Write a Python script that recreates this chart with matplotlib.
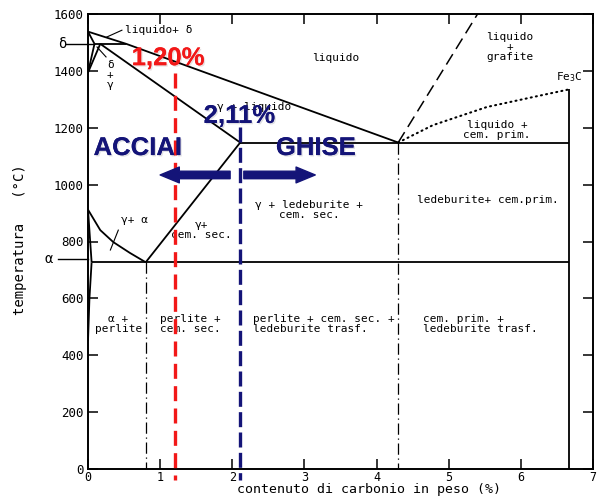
import numpy as np
import matplotlib
matplotlib.use("Agg")
import matplotlib.pyplot as plt
import matplotlib.patheffects as pe

# Fe-C phase boundaries (carbon %, temperature in degC)
liquidus_c = [0.0, 0.53, 4.3]
liquidus_t = [1538, 1495, 1148]
delta_sol_c = [0.0, 0.09]
delta_sol_t = [1538, 1495]
perit_c = [0.09, 0.53]
perit_t = [1495, 1495]
gamma_sol_c = [0.17, 2.11]
gamma_sol_t = [1495, 1148]
dg_left_c = [0.0, 0.09]
dg_left_t = [1394, 1495]
dg_right_c = [0.0, 0.17]
dg_right_t = [1394, 1495]
eutectic_c = [2.11, 6.67]
eutectic_t = [1148, 1148]
acm_c = [2.11, 0.8]
acm_t = [1148, 727]
a3_c = [0.0, 0.17, 0.35, 0.58, 0.8]
a3_t = [912, 840, 798, 760, 727]
alpha_c = [0.0, 0.05]
alpha_t = [912, 727]
solvus_c = [0.05, 0.02, 0.0]
solvus_t = [727, 600, 450]
eutectoid_c = [0.05, 6.67]
eutectoid_t = [727, 727]
fe3c_c = [6.67, 6.67]
fe3c_t = [1335, 0]
cem_liq_c = [4.3, 4.78, 5.53, 6.17, 6.67]
cem_liq_t = [1148, 1209, 1273, 1308, 1335]
graph_c = [4.3, 5.4]
graph_t = [1148, 1600]
eutectoid_comp = 0.8
eutectic_comp = 4.3

# steel / cast iron limits
steel_c = 1.20
steel_top = 1392
ghise_c = 2.11
ghise_top = 1202

x_ticks = [0, 1, 2, 3, 4, 5, 6, 7]
y_ticks = [0, 200, 400, 600, 800, 1000, 1200, 1400, 1600]

navy = "#141478"
red = "#f21818"
mono = "DejaVu Sans Mono"

fig = plt.figure(figsize=(6.04, 5.01), dpi=100)
ax = fig.add_axes([88 / 604, 32 / 501, 505 / 604, 455 / 501])
ax.set_xlim(0, 7)
ax.set_ylim(0, 1600)

lw = 1.3
for c, t in [(liquidus_c, liquidus_t), (delta_sol_c, delta_sol_t),
             (perit_c, perit_t), (gamma_sol_c, gamma_sol_t),
             (dg_left_c, dg_left_t), (dg_right_c, dg_right_t),
             (eutectic_c, eutectic_t), (acm_c, acm_t),
             (a3_c, a3_t), (alpha_c, alpha_t), (solvus_c, solvus_t),
             (eutectoid_c, eutectoid_t), (fe3c_c, fe3c_t)]:
    ax.plot(c, t, color="black", lw=lw, solid_capstyle="butt")

ax.plot(cem_liq_c, cem_liq_t, color="black", lw=1.5, ls=(0, (0.5, 2.0)),
        dash_capstyle="round")
ax.plot(graph_c, graph_t, color="black", lw=1.1, ls=(0, (8, 4)))
ax.plot([eutectoid_comp, eutectoid_comp], [eutectoid_t[0], 0], color="black",
        lw=0.9, ls=(0, (9, 3, 1, 3)))
ax.plot([eutectic_comp, eutectic_comp], [eutectic_t[0], 0], color="black",
        lw=0.9, ls=(0, (9, 3, 1, 3)))

# axes frame and ticks
for s in ax.spines.values():
    s.set_linewidth(1.4)
ax.set_xticks(x_ticks)
ax.set_yticks(y_ticks)
ax.set_xticklabels([str(v) for v in x_ticks], family=mono, fontsize=8.5)
ax.set_yticklabels([str(v) for v in y_ticks], family=mono, fontsize=9)
ax.tick_params(direction="in", length=7, width=1.1, top=True, right=True,
               pad=3)
ax.tick_params(axis="x", pad=1.5)

# delta and alpha marks on the temperature axis
ax.plot([-0.3, 0.09], [1495, 1495], color="black", lw=1.0, clip_on=False)
ax.text(-0.36, 1495, "δ", ha="center", va="center", fontsize=10, family=mono)
ax.plot([-0.42, 0.0], [740, 740], color="black", lw=1.0, clip_on=False)
ax.text(-0.55, 740, "α", ha="center", va="center", fontsize=10, family=mono)

ax.text(3.9, -50, "contenuto di carbonio in peso (%)", ha="center",
        va="top", fontsize=9.5, family=mono)
fig.text(20 / 604, 1 - 240 / 501, "temperatura   (°C)", rotation=90,
         ha="center", va="center", fontsize=10, family=mono)

# phase region labels
lab = dict(family=mono, fontsize=8, color="black", linespacing=1.0)
ax.text(0.51, 1544, "liquido+ δ", ha="left", va="center", **lab)
ax.plot([0.26, 0.47], [1519, 1543], color="black", lw=0.8)
ax.text(0.31, 1385, "δ\n+\nγ", ha="center", va="center", **lab)
ax.plot([0.125, 0.25], [1484, 1449], color="black", lw=0.8)
ax.text(3.44, 1445, "liquido", ha="center", va="center", **lab)
ax.text(5.85, 1484, "liquido\n+\ngrafite", ha="center", va="center", **lab)
ax.text(6.67, 1378, "Fe$_3$C", ha="center", va="center", **lab)
ax.text(5.67, 1192, "liquido +\ncem. prim.", ha="center", va="center", **lab)
ax.text(1.79, 1273, "γ + liquido", ha="left", va="center", **lab)
ax.text(3.07, 911, "γ + ledeburite +\ncem. sec.", ha="center", va="center",
        **lab)
ax.text(5.54, 946, "ledeburite+ cem.prim.", ha="center", va="center", **lab)
ax.text(0.65, 876, "γ+ α", ha="center", va="center", **lab)
ax.plot([0.31, 0.42], [770, 840], color="black", lw=0.8)
ax.text(1.57, 840, "γ+\ncem. sec.", ha="center", va="center", **lab)
ax.text(0.42, 510, "α +\nperlite", ha="center", va="center", **lab)
ax.text(1.42, 510, "perlite +\ncem. sec.", ha="center", va="center", **lab)
ax.text(2.29, 510, "perlite + cem. sec. +\nledeburite trasf.", ha="left",
        va="center", **lab)
ax.text(4.64, 510, "cem. prim. +\nledeburite trasf.", ha="left",
        va="center", **lab)

# steel / cast iron overlay
ax.plot([steel_c, steel_c], [steel_top, -40], color=red, lw=2.4,
        ls=(0, (4.5, 2.2)), clip_on=False, zorder=5)
ax.plot([ghise_c, ghise_c], [ghise_top, -40], color=navy, lw=2.4,
        ls=(0, (4.5, 1.6)), clip_on=False, zorder=5)

shadow = [pe.withSimplePatchShadow(offset=(1, -1), alpha=0.12),
          pe.Normal()]
big = dict(family="Liberation Sans", weight="bold", fontsize=18.5,
           zorder=6, path_effects=shadow)
ax.text(1.11, 1420, "1,20%", color=red, ha="center", va="baseline", **big)
ax.text(2.10, 1217, "2,11%", color=navy, ha="center", va="baseline", **big)
ax.text(0.69, 1104, "ACCIAI", color=navy, ha="center", va="baseline", **big)
ax.text(3.16, 1104, "GHISE", color=navy, ha="center", va="baseline", **big)

arrow = dict(arrowstyle="simple,head_width=0.95,head_length=1.15,"
             "tail_width=0.45", mutation_scale=12, color=navy,
             shrinkA=0, shrinkB=0)
ax.annotate("", xy=(1.0, 1034), xytext=(1.97, 1034), arrowprops=arrow,
            zorder=6)
ax.annotate("", xy=(3.15, 1034), xytext=(2.16, 1034), arrowprops=arrow,
            zorder=6)

fig.savefig("out.png", dpi=100)
